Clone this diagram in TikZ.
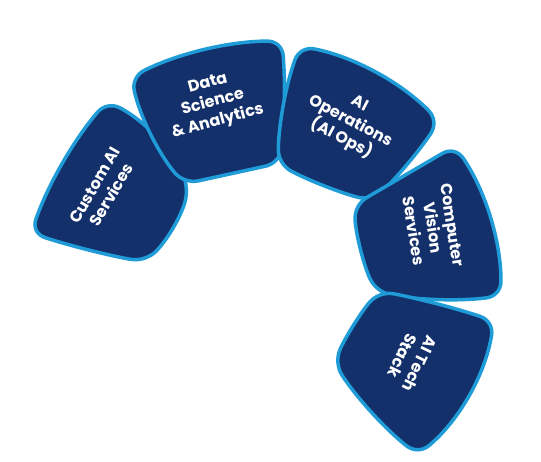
\documentclass[tikz,border=0pt]{standalone}
\usepackage{fontspec}
\setmainfont{Poppins}
\usetikzlibrary{calc}
\definecolor{navyfill}{HTML}{14306A}
\definecolor{edgeblue}{HTML}{1F9BD7}
\def\rr{15pt}
% #1 name, #2..#5 corners (clockwise on the page), #6..#9 outward offsets of the edge controls
\newcommand\petalpath[9]{%
  \coordinate (#1-1) at (#2);
  \coordinate (#1-2) at (#3);
  \coordinate (#1-3) at (#4);
  \coordinate (#1-4) at (#5);
  \coordinate (#1-m1) at ($(#1-1)!.5!(#1-2)$);
  \coordinate (#1-m2) at ($(#1-2)!.5!(#1-3)$);
  \coordinate (#1-m3) at ($(#1-3)!.5!(#1-4)$);
  \coordinate (#1-m4) at ($(#1-4)!.5!(#1-1)$);
  \coordinate (#1-c1) at ($(#1-m1)!#6pt!90:(#1-2)$);
  \coordinate (#1-c2) at ($(#1-m2)!#7pt!90:(#1-3)$);
  \coordinate (#1-c3) at ($(#1-m3)!#8pt!90:(#1-4)$);
  \coordinate (#1-c4) at ($(#1-m4)!#9pt!90:(#1-1)$);
  % trimmed ends of each edge
  \coordinate (#1-q1) at ($(#1-1)!\rr!(#1-c1)$);
  \coordinate (#1-p1) at ($(#1-2)!\rr!(#1-c1)$);
  \coordinate (#1-q2) at ($(#1-2)!\rr!(#1-c2)$);
  \coordinate (#1-p2) at ($(#1-3)!\rr!(#1-c2)$);
  \coordinate (#1-q3) at ($(#1-3)!\rr!(#1-c3)$);
  \coordinate (#1-p3) at ($(#1-4)!\rr!(#1-c3)$);
  \coordinate (#1-q4) at ($(#1-4)!\rr!(#1-c4)$);
  \coordinate (#1-p4) at ($(#1-1)!\rr!(#1-c4)$);
  % edge controls
  \coordinate (#1-k1) at ($(#1-1)!.667!(#1-c1)$);
  \coordinate (#1-l1) at ($(#1-2)!.667!(#1-c1)$);
  \coordinate (#1-k2) at ($(#1-2)!.667!(#1-c2)$);
  \coordinate (#1-l2) at ($(#1-3)!.667!(#1-c2)$);
  \coordinate (#1-k3) at ($(#1-3)!.667!(#1-c3)$);
  \coordinate (#1-l3) at ($(#1-4)!.667!(#1-c3)$);
  \coordinate (#1-k4) at ($(#1-4)!.667!(#1-c4)$);
  \coordinate (#1-l4) at ($(#1-1)!.667!(#1-c4)$);
  % corner controls
  \coordinate (#1-u2) at ($(#1-p1)!.6!(#1-2)$);
  \coordinate (#1-v2) at ($(#1-q2)!.6!(#1-2)$);
  \coordinate (#1-u3) at ($(#1-p2)!.6!(#1-3)$);
  \coordinate (#1-v3) at ($(#1-q3)!.6!(#1-3)$);
  \coordinate (#1-u4) at ($(#1-p3)!.6!(#1-4)$);
  \coordinate (#1-v4) at ($(#1-q4)!.6!(#1-4)$);
  \coordinate (#1-u1) at ($(#1-p4)!.6!(#1-1)$);
  \coordinate (#1-v1) at ($(#1-q1)!.6!(#1-1)$);
  \draw[petal] (#1-q1) .. controls (#1-k1) and (#1-l1) .. (#1-p1)
    .. controls (#1-u2) and (#1-v2) .. (#1-q2)
    .. controls (#1-k2) and (#1-l2) .. (#1-p2)
    .. controls (#1-u3) and (#1-v3) .. (#1-q3)
    .. controls (#1-k3) and (#1-l3) .. (#1-p3)
    .. controls (#1-u4) and (#1-v4) .. (#1-q4)
    .. controls (#1-k4) and (#1-l4) .. (#1-p4)
    .. controls (#1-u1) and (#1-v1) .. (#1-q1) -- cycle;
}
\begin{document}
\begin{tikzpicture}[x=1pt,y=-1pt,
  petal/.style={fill=navyfill, draw=edgeblue, line width=3.5pt, line join=round},
  lbl/.style={text=white, font=\bfseries\fontsize{16}{19.5}\selectfont, align=center, inner sep=0pt}]
\useasboundingbox (0,0) rectangle (541,461);
% Custom AI Services
\petalpath{p1}{107,101}{189,187}{145,262}{31,233}{20}{12}{4}{14}
% Data Science & Analytics
\petalpath{p2}{131,77}{282,41}{280,163}{184,184}{18}{6}{0}{14}
% AI Operations
\petalpath{p3}{300,46}{439,121}{372,201}{278,164}{24}{6}{6}{10}
% Computer Vision Services
\petalpath{p4}{455,146}{501,296}{376,292}{354,205}{24}{10}{8}{0}
% AI Tech Stack
\petalpath{p5}{379,291}{494,321}{418,455}{334,363}{4}{28}{10}{6}
\node[lbl, rotate=60] (t1) at (103,190) {Custom AI\\Services};
\node[lbl, rotate=15] (t2) at (213,103) {Data\\Science\\\& Analytics};
\node[lbl, rotate=-28] (t3) at (350,122) {AI\\Operations\\(AI Ops)};
\node[lbl, rotate=-81] (t4) at (433,228) {Computer\\Vision\\Services};
\node[lbl, rotate=-116] (t5) at (411,360) {AI Tech\\Stack};
\end{tikzpicture}
\end{document}
